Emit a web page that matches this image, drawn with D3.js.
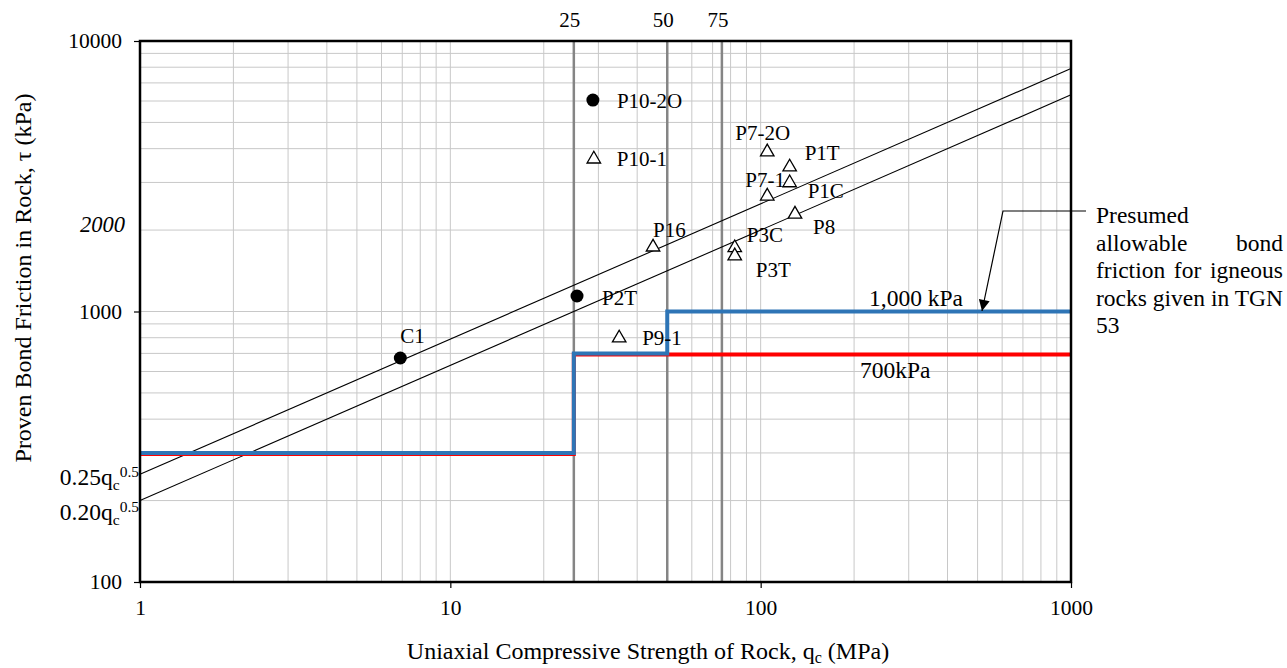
<!DOCTYPE html>
<html>
<head>
<meta charset="utf-8">
<script src="https://cdn.jsdelivr.net/npm/d3@7"></script>
<style>
  html, body { margin: 0; padding: 0; background: #fff; }
  svg text { font-family: "Liberation Serif", "Times New Roman", serif; fill: #000; }
</style>
</head>
<body>
<svg id="chart" width="1287" height="668"></svg>
<script>
// ---------- data ----------
const xTickValues = [1, 10, 100, 1000];
const yTickValues = [100, 1000, 10000];
const yExtraTick = [2000];
const refQc = [25, 50, 75];

const pointNames = ["C1", "P2T", "P10-2O", "P10-1", "P16", "P3C", "P3T", "P7-2O", "P1T", "P1C", "P7-1", "P8", "P9-1"];
const pointQc    = [6.9, 25.6, 28.8, 29.0, 45, 82.5, 82.5, 105, 124, 124, 105, 129, 35];
const pointTau   = [673, 1141, 6050, 3660, 1730, 1720, 1605, 3890, 3420, 2990, 2670, 2290, 798];
const pointShape = ["circle", "circle", "circle", "tri", "tri", "tri", "tri", "tri", "tri", "tri", "tri", "tri", "tri"];

const trendQc = [1, 1000];
const trend025Tau = [250, 7906];
const trend020Tau = [200, 6325];

const blueQc  = [1, 25, 25, 50, 50, 1000];
const blueTau = [300, 300, 700, 700, 1000, 1000];
const redQc   = [1, 25, 25, 1000];
const redTau  = [300, 300, 700, 700];

// ---------- layout ----------
const svg = d3.select("#chart");
const M = { left: 140, top: 41, right: 1071, bottom: 582 };
const x = d3.scaleLog().domain([1, 1000]).range([M.left, M.right]);
const y = d3.scaleLog().domain([100, 10000]).range([M.bottom, M.top]);
const FONT = '"Liberation Serif", "Times New Roman", serif';

// label offsets (styling only)
const labelOffset = {
  "C1": [0, -15], "P2T": [25, 9], "P10-2O": [24, 8], "P10-1": [23, 7],
  "P16": [0, -10], "P3C": [12, -6], "P3T": [21, 21], "P7-2O": [-32, -12],
  "P1T": [15, -7], "P1C": [18, 15], "P7-1": [-22, -9], "P8": [18, 20], "P9-1": [23, 7]
};

// ---------- grid ----------
const grid = svg.append("g");
grid.selectAll("line.gx").data(x.ticks()).join("line")
  .attr("x1", d => x(d)).attr("x2", d => x(d))
  .attr("y1", M.top).attr("y2", M.bottom)
  .attr("stroke", "#c8c8c8").attr("stroke-width", 1);
grid.selectAll("line.gy").data(y.ticks()).join("line")
  .attr("y1", d => y(d)).attr("y2", d => y(d))
  .attr("x1", M.left).attr("x2", M.right)
  .attr("stroke", "#c8c8c8").attr("stroke-width", 1);

// reference verticals
svg.append("g").selectAll("line").data(refQc).join("line")
  .attr("x1", d => x(d)).attr("x2", d => x(d))
  .attr("y1", M.top).attr("y2", M.bottom)
  .attr("stroke", "#858585").attr("stroke-width", 2.5);
svg.append("g").selectAll("text").data(refQc).join("text")
  .attr("x", d => x(d) - 4).attr("y", 27)
  .attr("text-anchor", "middle").attr("font-size", 21)
  .text(d => d);

// trend lines
const lineGen = d3.line().x(d => x(d[0])).y(d => y(d[1]));
[trend025Tau, trend020Tau].forEach(t => {
  svg.append("path").datum(trendQc.map((q, i) => [q, t[i]]))
    .attr("d", lineGen).attr("fill", "none")
    .attr("stroke", "#000").attr("stroke-width", 1.1);
});

// step lines
svg.append("path").datum(redQc.map((q, i) => [q, redTau[i]]))
  .attr("d", lineGen).attr("fill", "none")
  .attr("stroke", "#ff0000").attr("stroke-width", 4)
  .attr("transform", "translate(0,1)");
svg.append("path").datum(blueQc.map((q, i) => [q, blueTau[i]]))
  .attr("d", lineGen).attr("fill", "none")
  .attr("stroke", "#2e75b6").attr("stroke-width", 4);

// ---------- points ----------
const pts = pointNames.map((n, i) => ({ name: n, qc: pointQc[i], tau: pointTau[i], shape: pointShape[i] }));
const pg = svg.append("g");
pts.forEach(p => {
  const cx = x(p.qc), cy = y(p.tau);
  if (p.shape === "circle") {
    pg.append("circle").attr("cx", cx).attr("cy", cy).attr("r", 6.5).attr("fill", "#000");
  } else {
    const s = 13.5, h = s * Math.sqrt(3) / 2;
    pg.append("path")
      .attr("d", `M${cx},${cy - h * 2 / 3}L${cx + s / 2},${cy + h / 3}L${cx - s / 2},${cy + h / 3}Z`)
      .attr("fill", "#fff").attr("stroke", "#000").attr("stroke-width", 1.3);
  }
  const o = labelOffset[p.name];
  pg.append("text").attr("x", cx + o[0]).attr("y", cy + o[1])
    .attr("font-size", 21).text(p.name);
});

// ---------- frame & axes ----------
svg.append("rect").attr("x", M.left).attr("y", M.top)
  .attr("width", M.right - M.left).attr("height", M.bottom - M.top)
  .attr("fill", "none").attr("stroke", "#000").attr("stroke-width", 2.5);

const xAxis = d3.axisBottom(x).tickValues(xTickValues).tickSize(6).tickFormat(d3.format("d"));
const gx = svg.append("g").attr("transform", `translate(0,${M.bottom})`).call(xAxis);
gx.select(".domain").remove();
gx.selectAll(".tick line").attr("stroke", "#000").attr("stroke-width", 1.2);
gx.selectAll(".tick text").attr("font-size", 21.5).attr("dy", 0).attr("y", 33)
  .style("font-family", FONT).attr("fill", "#000");

const yAxis = d3.axisLeft(y).tickValues(yTickValues).tickSize(6).tickFormat(d3.format("d"));
const gy = svg.append("g").attr("transform", `translate(${M.left},0)`).call(yAxis);
gy.select(".domain").remove();
gy.selectAll(".tick line").attr("stroke", "#000").attr("stroke-width", 1.2);
gy.selectAll(".tick text").attr("font-size", 21.5).attr("x", -18)
  .style("font-family", FONT).attr("fill", "#000");

svg.append("g").selectAll("text").data(yExtraTick).join("text")
  .attr("x", M.left - 15).attr("y", d => y(d) - 6).attr("dy", "0.35em")
  .attr("text-anchor", "end").attr("font-size", 22.5).attr("font-style", "italic")
  .text(d => d);

// ---------- axis titles ----------
const xt = svg.append("text").attr("x", 648).attr("y", 659)
  .attr("text-anchor", "middle").attr("font-size", 24);
xt.append("tspan").text("Uniaxial Compressive Strength of Rock, q");
xt.append("tspan").attr("font-size", 16).attr("dy", 4).text("c");
xt.append("tspan").attr("dy", -4).text(" (MPa)");

svg.append("text").attr("transform", "translate(31,278) rotate(-90)")
  .attr("text-anchor", "middle").attr("font-size", 24)
  .text("Proven Bond Friction in Rock, \u03C4  (kPa)");

// ---------- formula labels ----------
function formula(label, by) {
  const t = svg.append("text").attr("x", 139).attr("y", by)
    .attr("text-anchor", "end").attr("font-size", 23.5);
  t.append("tspan").text(label + "q");
  t.append("tspan").attr("font-size", 15.5).attr("dy", 5).text("c");
  t.append("tspan").attr("font-size", 15.5).attr("dy", -13).text("0.5");
}
formula("0.25", 485);
formula("0.20", 520);

// ---------- limit labels ----------
svg.append("text").attr("x", 869).attr("y", 306).attr("font-size", 23.5).text("1,000 kPa");
svg.append("text").attr("x", 860).attr("y", 378).attr("font-size", 23.5).text("700kPa");

// ---------- annotation ----------
const annLines = ["Presumed", "allowable bond", "friction for igneous", "rocks given in TGN", "53"];
const annBase = [223, 250.5, 278, 305.5, 333];
const annX = 1096, annW = 187;
annLines.forEach((s, i) => {
  const t = svg.append("text").attr("x", annX).attr("y", annBase[i]).attr("font-size", 23.5).text(s);
  if (i >= 1 && i <= 3) {
    const w = t.node().getComputedTextLength();
    const gaps = s.split(" ").length - 1;
    if (gaps > 0) t.style("word-spacing", ((annW - w) / gaps) + "px");
  }
});
// arrow
svg.append("defs").append("marker").attr("id", "ah")
  .attr("viewBox", "0 0 10 10").attr("refX", 10).attr("refY", 5)
  .attr("markerWidth", 16).attr("markerHeight", 11).attr("markerUnits", "userSpaceOnUse")
  .attr("orient", "auto")
  .append("path").attr("d", "M0,0L10,5L0,10Z").attr("fill", "#000");
svg.append("path").attr("d", "M1086,211L1003,211L982,311")
  .attr("fill", "none").attr("stroke", "#000").attr("stroke-width", 1.2)
  .attr("marker-end", "url(#ah)");
</script>
</body>
</html>
